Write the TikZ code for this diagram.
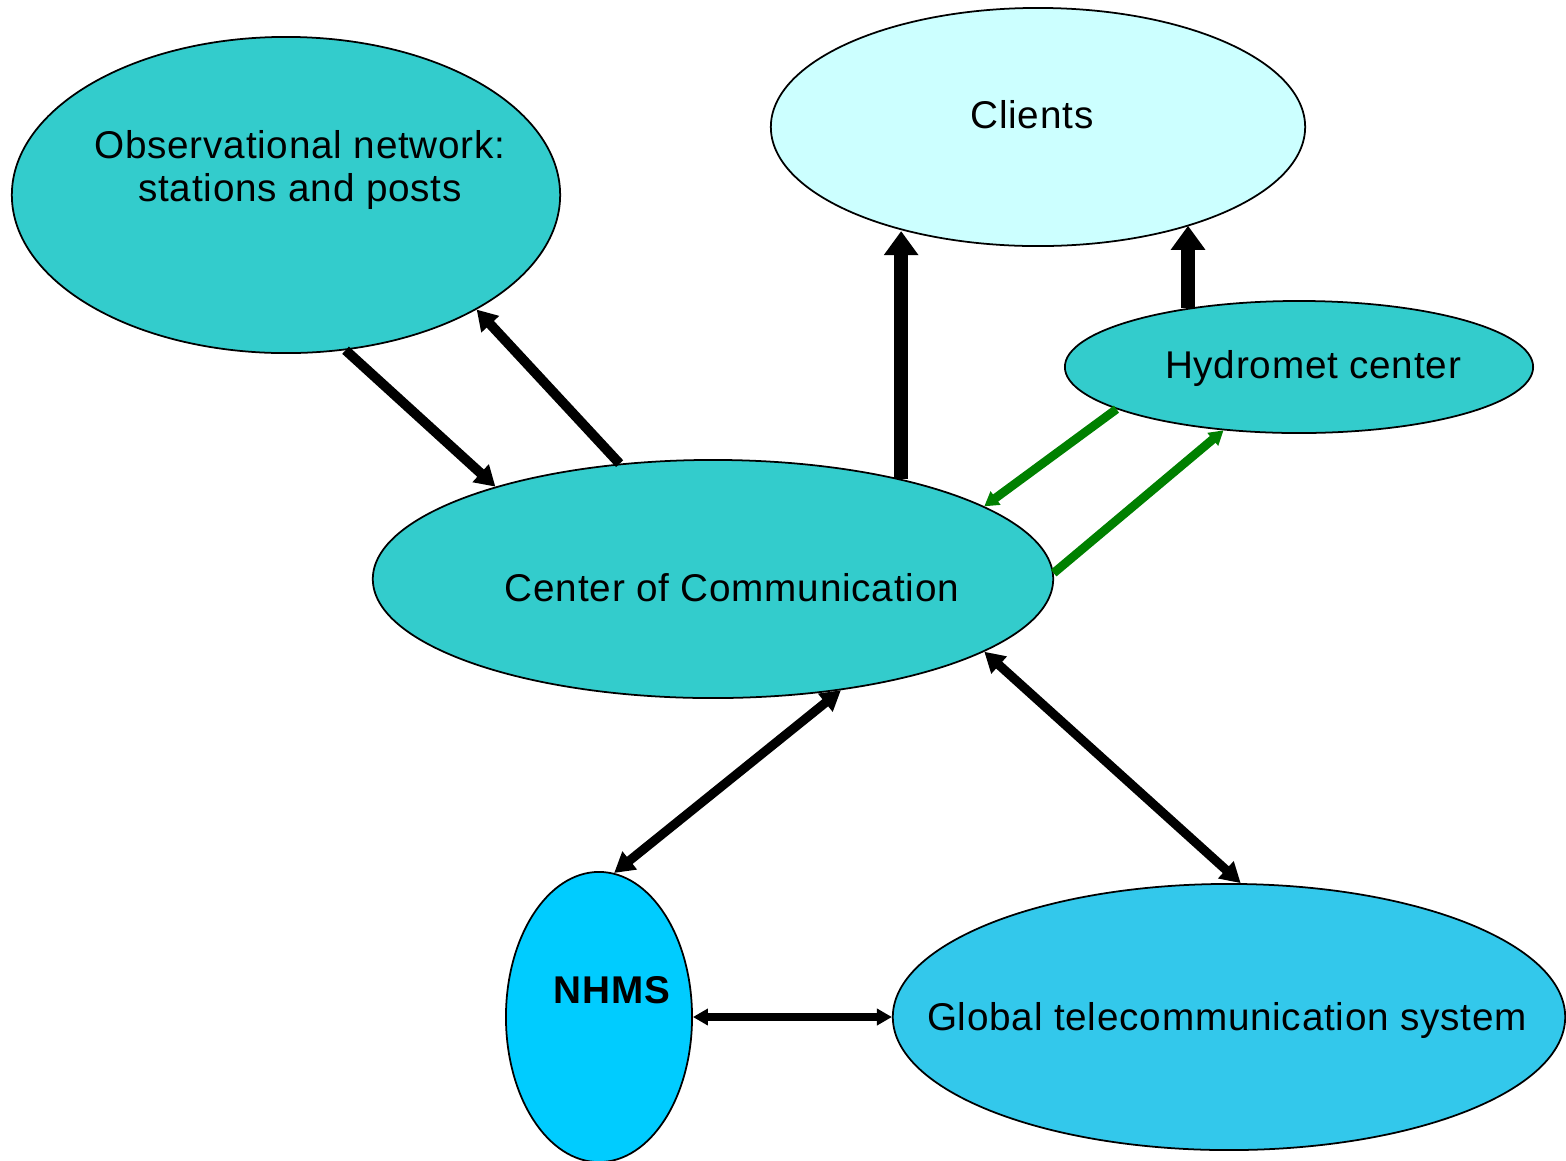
\documentclass[tikz,border=0pt]{standalone}
\usepackage{fontspec}
\setmainfont{Liberation Sans}[LetterSpace=2]
\usetikzlibrary{shapes.geometric,arrows.meta}
\definecolor{turquesa}{RGB}{51,204,204}
\definecolor{clarinho}{RGB}{204,255,255}
\definecolor{celeste}{RGB}{0,204,255}
\definecolor{azulgts}{RGB}{51,200,235}
\definecolor{verde}{RGB}{0,128,0}
\begin{document}
\begin{tikzpicture}[
  x=0.01cm, y=-0.01cm,
  every node/.style={font=\fontsize{11}{12}\selectfont},
  bloco/.style={draw, ellipse, inner sep=0pt, line width=0.5pt},
  rotulo/.style={align=center, inner sep=0pt}
]
\tikzset{
  grossa/.style={line width=3.8pt, -{Triangle[width=3.3mm,length=2.4mm]}},
  media/.style={line width=2.8pt, -{Triangle[width=2.3mm,length=2mm]}},
  dupla/.style={line width=2.6pt, {Triangle[width=2.2mm,length=2mm]}-{Triangle[width=2.2mm,length=2mm]}},
  fina/.style={line width=2pt, {Triangle[width=1.6mm,length=1.5mm]}-{Triangle[width=1.6mm,length=1.5mm]}},
  verdinha/.style={line width=2.5pt, draw=verde, -{Triangle[width=1.6mm,length=1.4mm]}}
}
\useasboundingbox (0,0) rectangle (1566,1160);
% elipses
\node[bloco, fill=turquesa, minimum width=5.48cm, minimum height=3.16cm] (obs) at (286,195) {};
\node[bloco, fill=clarinho, minimum width=5.34cm, minimum height=2.38cm] (clientes) at (1038,127) {};
\node[bloco, fill=turquesa, minimum width=4.68cm, minimum height=1.32cm] (hidro) at (1299,367) {};
\node[bloco, fill=turquesa, minimum width=6.80cm, minimum height=2.38cm] (centro) at (713,579) {};
\node[bloco, fill=celeste, minimum width=1.86cm, minimum height=2.90cm] (nhms) at (599,1017) {};
\node[bloco, fill=azulgts, minimum width=6.72cm, minimum height=2.66cm] (gts) at (1229,1017) {};
% textos
\node[rotulo] (obs-txt) at (300,170) {Observational network:\\stations and posts};
\node[rotulo] (clientes-txt) at (1032,115) {Clients};
\node[rotulo] (hidro-txt) at (1313,368) {Hydromet center};
\node[rotulo] (centro-txt) at (732,588) {Center of Communication};
\node[rotulo, font=\fontsize{11}{12}\selectfont\bfseries] (nhms-txt) at (612,990) {NHMS};
\node[rotulo] (gts-txt) at (1227,1020) {Global telecommunication system};
% setas
\draw[media] (obs.-69.2) -- (centro.157);
\draw[media] (centro.129.5) -- (obs.-31);
\draw[grossa] (centro.28) -- (centro.28 |- clientes.218.4);
\draw[grossa] (hidro.152.9) -- (hidro.152.9 |- clientes.-33.8);
\draw[verdinha] (hidro.193.4) -- (centro.15.5);
\draw[verdinha] (centro.1.85) -- (hidro.220.2);
\draw[dupla] (centro.-41.1) -- (nhms.84.9);
\draw[dupla] (centro.-15) -- (gts.85);
\draw[fina] (nhms.east) -- (gts.west);
\end{tikzpicture}
\end{document}
